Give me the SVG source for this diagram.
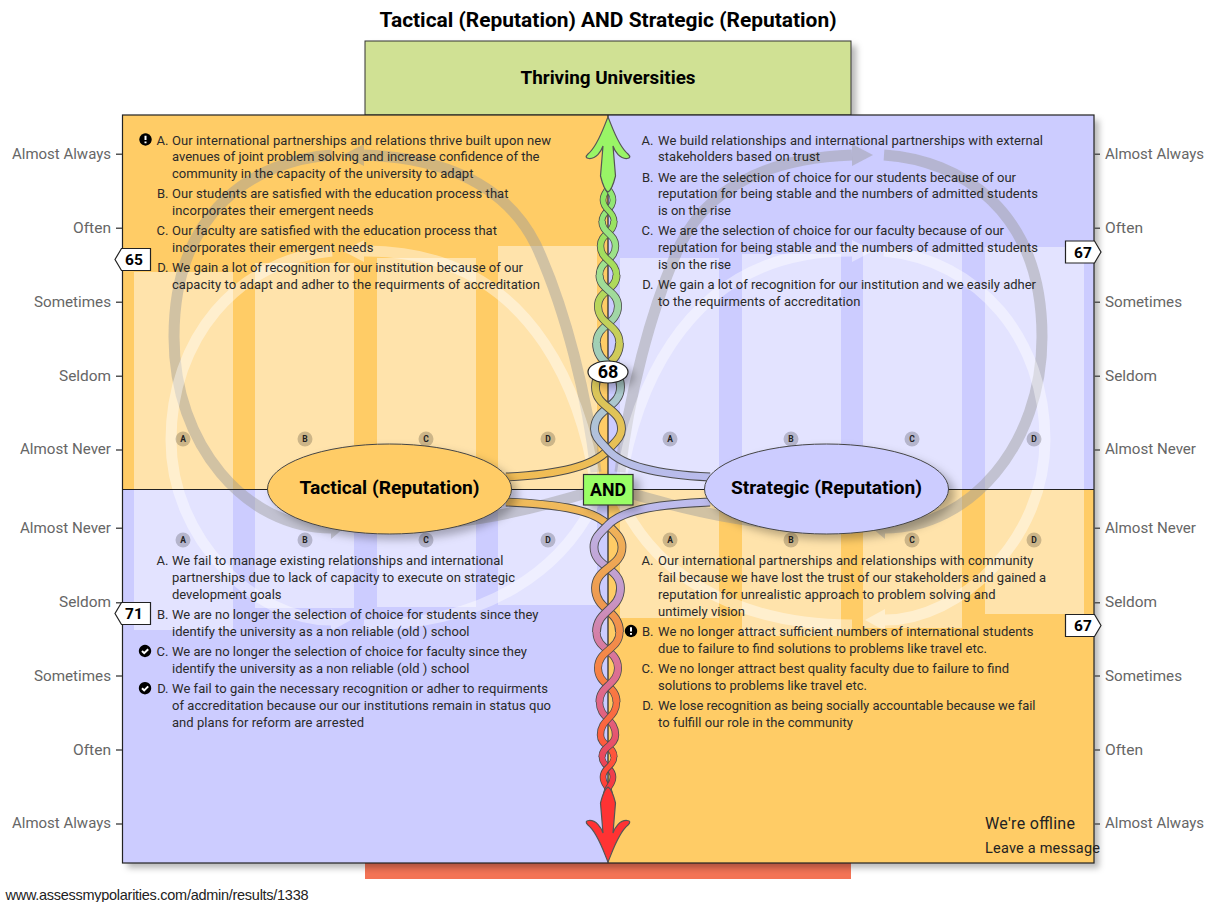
<svg xmlns="http://www.w3.org/2000/svg" width="1207" height="902" viewBox="0 0 1207 902">
<style>
text{font-family:Roboto,"Liberation Sans",sans-serif}
.b{font-size:13px;fill:#2a2a2a}
.l{font-size:13px;fill:#2a2a2a;text-anchor:end}
.ax{font-size:15px;fill:#666;text-anchor:end}
.ar{font-size:15px;fill:#666}
.tk{stroke:#555;stroke-width:1.5}
.bar{fill:#fff;opacity:.45}
.gy{fill:none;stroke:#999;stroke-width:11;opacity:.45}
.gh{fill:#999;opacity:.45}
.wh{fill:none;stroke:#fff;stroke-width:11;opacity:.42}
.wa{fill:#fff;opacity:.42}
.o7,.o6,.o5,.o4{fill:none;stroke:#4c4c4c}
.o7{stroke-width:8.8}.o6{stroke-width:8}.o5{stroke-width:7.4}.o4{stroke-width:6.6}
.c7,.c6,.c5,.c4{fill:none}
.c7{stroke-width:7}.c6{stroke-width:6.4}.c5{stroke-width:5.8}.c4{stroke-width:5}
.go{stroke:url(#go)}.gl{stroke:url(#gl)}.gy2{stroke:url(#gy2)}.gx{stroke:url(#gx)}
.dot{fill:#000;opacity:.2}
.dt{font-size:8.5px;font-weight:700;fill:#222;text-anchor:middle}
.el{stroke:#444;stroke-width:1}
.et{font-size:18px;font-weight:700;fill:#000;text-anchor:middle}
.sc{fill:#fff;stroke:#222;stroke-width:1.2}
.st{font-size:15.5px;font-weight:700;fill:#000;text-anchor:middle}
.ic{fill:#000}
.iw{fill:none;stroke:#fff;stroke-width:2}
</style>
<defs>
<filter id="sh" x="-10%" y="-10%" width="125%" height="125%"><feDropShadow dx="5" dy="5" stdDeviation="3" flood-color="#000" flood-opacity=".28"/></filter>
<filter id="sb" x="-30%" y="-30%" width="180%" height="180%"><feDropShadow dx="6" dy="5" stdDeviation="4" flood-color="#000" flood-opacity=".28"/></filter>
<linearGradient id="go" gradientUnits="userSpaceOnUse" x1="0" y1="480" x2="0" y2="120">
<stop offset="0" stop-color="#F2BC55"/><stop offset=".36" stop-color="#CFCB5A"/><stop offset=".58" stop-color="#A8DC5C"/><stop offset=".8" stop-color="#8FE765"/><stop offset="1" stop-color="#99F566"/></linearGradient>
<linearGradient id="gl" gradientUnits="userSpaceOnUse" x1="0" y1="480" x2="0" y2="120">
<stop offset="0" stop-color="#BABBEE"/><stop offset=".36" stop-color="#A2CEB8"/><stop offset=".58" stop-color="#A0E090"/><stop offset=".8" stop-color="#90E870"/><stop offset="1" stop-color="#99F566"/></linearGradient>
<linearGradient id="gy2" gradientUnits="userSpaceOnUse" x1="0" y1="500" x2="0" y2="800">
<stop offset="0" stop-color="#F0BC5C"/><stop offset=".33" stop-color="#EE9A50"/><stop offset=".6" stop-color="#F77F45"/><stop offset=".9" stop-color="#FF4C3A"/><stop offset="1" stop-color="#FF3333"/></linearGradient>
<linearGradient id="gx" gradientUnits="userSpaceOnUse" x1="0" y1="500" x2="0" y2="800">
<stop offset="0" stop-color="#BDBDEE"/><stop offset=".3" stop-color="#C49ACB"/><stop offset=".5" stop-color="#D9789D"/><stop offset=".73" stop-color="#E2607E"/><stop offset=".9" stop-color="#EE4050"/><stop offset="1" stop-color="#FF3333"/></linearGradient>
<g id="loop">
<path class="gy" d="M620 472C628 400 650 310 680 245C710 185 770 158 852 155"/>
<path class="gh" d="M852 144L873 155L852 166Z"/>
<path class="gy" d="M884 155C960 160 1042 210 1042 337C1042 445 970 528 885 528"/>
<path class="gh" d="M885 517L872 528L885 539Z"/>
<path class="gy" d="M852 528C770 528 700 515 620 490"/>
<path class="wh" d="M620 487C630 420 670 250 852 251"/>
<path class="wa" d="M852 240L873 251L852 262Z"/>
<path class="wh" d="M884 251C980 260 1045 340 1045 440C1045 540 960 620 885 620"/>
<path class="wa" d="M885 609L865 620L885 631Z"/>
<path class="wh" d="M852 625C730 625 650 570 617 492"/>
</g>
</defs>
<text x="608" y="26.5" style="font-size:19.5px;font-weight:700;text-anchor:middle;fill:#000" textLength="457" lengthAdjust="spacingAndGlyphs">Tactical (Reputation) AND Strategic (Reputation)</text>
<g id="pole-top"><rect x="365" y="41" width="486" height="74" fill="#D0E194" stroke="#333" stroke-width="1" filter="url(#sh)"/>
<text x="608" y="83.5" style="font-size:18px;font-weight:700;text-anchor:middle;fill:#000" textLength="175" lengthAdjust="spacingAndGlyphs">Thriving Universities</text></g>
<g id="pole-bottom"><rect x="365" y="850" width="486" height="29" fill="#F37355" stroke="none"/></g>
<g id="quadrants">
<rect x="122.5" y="115" width="971.500" height="748" fill="#fff" filter="url(#sh)"/>
<rect x="122.5" y="115" width="485.500" height="374.500" fill="#FFCC66"/>
<rect x="608" y="115" width="486" height="374.500" fill="#CCCCFF"/>
<rect x="122.5" y="489.500" width="485.500" height="373.500" fill="#CCCCFF"/>
<rect x="608" y="489.500" width="486" height="373.500" fill="#FFCC66"/>
<rect class="bar" x="134" y="272" width="99" height="217.500"/><rect class="bar" x="255" y="263" width="99" height="226.500"/><rect class="bar" x="377" y="258" width="99" height="231.500"/><rect class="bar" x="498" y="246" width="99" height="243.500"/>
<rect class="bar" x="620" y="258" width="99" height="231.500"/><rect class="bar" x="742" y="254" width="99" height="235.500"/><rect class="bar" x="863" y="251" width="99" height="238.500"/><rect class="bar" x="985" y="247" width="99" height="242.500"/>
<rect class="bar" x="134" y="489.500" width="99" height="140.500"/><rect class="bar" x="255" y="489.500" width="99" height="118.500"/><rect class="bar" x="377" y="489.500" width="99" height="117.500"/><rect class="bar" x="498" y="489.500" width="99" height="115.500"/>
<rect class="bar" x="620" y="489.500" width="99" height="128.500"/><rect class="bar" x="742" y="489.500" width="99" height="146.500"/><rect class="bar" x="863" y="489.500" width="99" height="138.500"/><rect class="bar" x="985" y="489.500" width="99" height="124.500"/>
</g>
<g id="connectors">
<use href="#loop"/>
<use href="#loop" transform="matrix(-1 0 0 1 1216 0)"/>
</g>
<g id="frame" fill="none" stroke="#222">
<rect x="122.5" y="115" width="971.500" height="748" stroke-width="1.2"/>
<path d="M122.500 489.500H1094" stroke-width="1"/>
<path d="M608 115V863" stroke-width="1.2"/>
</g>
<g id="axis-left">
<path class="tk" d="M116 154.300H122M116 228.300H122M116 302.300H122M116 376.300H122M116 450H122M116 528.300H122M116 602.700H122M116 676H122M116 750H122M116 824H122"/>
<text class="ax" x="111" y="159" textLength="99" lengthAdjust="spacingAndGlyphs">Almost Always</text><text class="ax" x="111" y="233" textLength="38" lengthAdjust="spacingAndGlyphs">Often</text><text class="ax" x="111" y="307" textLength="77" lengthAdjust="spacingAndGlyphs">Sometimes</text><text class="ax" x="111" y="381" textLength="52" lengthAdjust="spacingAndGlyphs">Seldom</text><text class="ax" x="111" y="454" textLength="91" lengthAdjust="spacingAndGlyphs">Almost Never</text>
<text class="ax" x="111" y="533" textLength="91" lengthAdjust="spacingAndGlyphs">Almost Never</text><text class="ax" x="111" y="607" textLength="52" lengthAdjust="spacingAndGlyphs">Seldom</text><text class="ax" x="111" y="681" textLength="77" lengthAdjust="spacingAndGlyphs">Sometimes</text><text class="ax" x="111" y="755" textLength="38" lengthAdjust="spacingAndGlyphs">Often</text><text class="ax" x="111" y="828" textLength="99" lengthAdjust="spacingAndGlyphs">Almost Always</text>
</g>
<g id="axis-right">
<path class="tk" d="M1094 154.300H1100M1094 228.300H1100M1094 302.300H1100M1094 376.300H1100M1094 450H1100M1094 528.300H1100M1094 602.700H1100M1094 676H1100M1094 750H1100M1094 824H1100"/>
<text class="ar" x="1105" y="159" textLength="99" lengthAdjust="spacingAndGlyphs">Almost Always</text><text class="ar" x="1105" y="233" textLength="38" lengthAdjust="spacingAndGlyphs">Often</text><text class="ar" x="1105" y="307" textLength="77" lengthAdjust="spacingAndGlyphs">Sometimes</text><text class="ar" x="1105" y="381" textLength="52" lengthAdjust="spacingAndGlyphs">Seldom</text><text class="ar" x="1105" y="454" textLength="91" lengthAdjust="spacingAndGlyphs">Almost Never</text>
<text class="ar" x="1105" y="533" textLength="91" lengthAdjust="spacingAndGlyphs">Almost Never</text><text class="ar" x="1105" y="607" textLength="52" lengthAdjust="spacingAndGlyphs">Seldom</text><text class="ar" x="1105" y="681" textLength="77" lengthAdjust="spacingAndGlyphs">Sometimes</text><text class="ar" x="1105" y="755" textLength="38" lengthAdjust="spacingAndGlyphs">Often</text><text class="ar" x="1105" y="828" textLength="99" lengthAdjust="spacingAndGlyphs">Almost Always</text>
</g>
<g id="text-tl">
<path class="ic" d="M145.500 133.300a6.200 6.200 0 1 0 .01 0Z"/><path class="iw" d="M145.500 135.700v4.300M145.500 141.500v1.800"/>
<text class="l" x="168.500" y="144.700">A.</text>
<text class="b" x="172" y="144.700" textLength="379">Our international partnerships and relations thrive built upon new</text>
<text class="b" x="172" y="161.300" textLength="367.500">avenues of joint problem solving and increase confidence of the</text>
<text class="b" x="172" y="178.300" textLength="301.500">community in the capacity of the university to adapt</text>
<text class="l" x="168.500" y="198.300">B.</text>
<text class="b" x="172" y="198.300" textLength="336.500">Our students are satisfied with the education process that</text>
<text class="b" x="172" y="215.300" textLength="201.500">incorporates their emergent needs</text>
<text class="l" x="168.500" y="235.300">C.</text>
<text class="b" x="172" y="235.300" textLength="325">Our faculty are satisfied with the education process that</text>
<text class="b" x="172" y="252.300" textLength="201.500">incorporates their emergent needs</text>
<text class="l" x="168.500" y="272.300">D.</text>
<text class="b" x="172" y="272.300" textLength="351">We gain a lot of recognition for our institution because of our</text>
<text class="b" x="172" y="289.300" textLength="368">capacity to adapt and adher to the requirments of accreditation</text>
</g>
<g id="text-tr">
<text class="l" x="653.500" y="144.700">A.</text>
<text class="b" x="658" y="144.700" textLength="385">We build relationships and international partnerships with external</text>
<text class="b" x="658" y="161.300" textLength="162">stakeholders based on trust</text>
<text class="l" x="653.500" y="181.700">B.</text>
<text class="b" x="658" y="181.700" textLength="358">We are the selection of choice for our students because of our</text>
<text class="b" x="658" y="198.300" textLength="380">reputation for being stable and the numbers of admitted students</text>
<text class="b" x="658" y="215.300" textLength="73">is on the rise</text>
<text class="l" x="653.500" y="235.300">C.</text>
<text class="b" x="658" y="235.300" textLength="346">We are the selection of choice for our faculty because of our</text>
<text class="b" x="658" y="252.300" textLength="380">reputation for being stable and the numbers of admitted students</text>
<text class="b" x="658" y="269" textLength="73">is on the rise</text>
<text class="l" x="653.500" y="289.300">D.</text>
<text class="b" x="658" y="289.300" textLength="378">We gain a lot of recognition for our institution and we easily adher</text>
<text class="b" x="658" y="306" textLength="202.500">to the requirments of accreditation</text>
</g>
<g id="text-bl">
<text class="l" x="168.500" y="565.300">A.</text>
<text class="b" x="172" y="565.300" textLength="331.500">We fail to manage existing relationships and international</text>
<text class="b" x="172" y="582" textLength="343">partnerships due to lack of capacity to execute on strategic</text>
<text class="b" x="172" y="599" textLength="109.500">development goals</text>
<text class="l" x="168.500" y="619">B.</text>
<text class="b" x="172" y="619" textLength="366.500">We are no longer the selection of choice for students since they</text>
<text class="b" x="172" y="636" textLength="297.500">identify the university as a non reliable (old ) school</text>
<path class="ic" d="M145 644.800a6.200 6.200 0 1 0 .01 0Z"/><path class="iw" d="M142 651l2.200 2.200 4-4"/>
<text class="l" x="168.500" y="656">C.</text>
<text class="b" x="172" y="656" textLength="355">We are no longer the selection of choice for faculty since they</text>
<text class="b" x="172" y="673" textLength="297.500">identify the university as a non reliable (old ) school</text>
<path class="ic" d="M145 682a6.200 6.200 0 1 0 .01 0Z"/><path class="iw" d="M142 688.200l2.200 2.200 4-4"/>
<text class="l" x="168.500" y="693.300">D.</text>
<text class="b" x="172" y="693.300" textLength="376">We fail to gain the necessary recognition or adher to requirments</text>
<text class="b" x="172" y="710" textLength="379">of accreditation because our our institutions remain in status quo</text>
<text class="b" x="172" y="726.700" textLength="192">and plans for reform are arrested</text>
</g>
<g id="text-br">
<text class="l" x="653.500" y="565.300">A.</text>
<text class="b" x="658" y="565.300" textLength="375.500">Our international partnerships and relationships with community</text>
<text class="b" x="658" y="582" textLength="388">fail because we have lost the trust of our stakeholders and gained a</text>
<text class="b" x="658" y="599" textLength="337.500">reputation for unrealistic approach to problem solving and</text>
<text class="b" x="658" y="615.700" textLength="87">untimely vision</text>
<path class="ic" d="M631 624.800a6.200 6.200 0 1 0 .01 0Z"/><path class="iw" d="M631 627.200v4.300M631 633v1.800"/>
<text class="l" x="653.500" y="636">B.</text>
<text class="b" x="658" y="636" textLength="375.500">We no longer attract sufficient numbers of international students</text>
<text class="b" x="658" y="652.700" textLength="329">due to failure to find solutions to problems like travel etc.</text>
<text class="l" x="653.500" y="673">C.</text>
<text class="b" x="658" y="673" textLength="351">We no longer attract best quality faculty due to failure to find</text>
<text class="b" x="658" y="689.700" textLength="209">solutions to problems like travel etc.</text>
<text class="l" x="653.500" y="710">D.</text>
<text class="b" x="658" y="710" textLength="377.500">We lose recognition as being socially accountable because we fail</text>
<text class="b" x="658" y="726.700" textLength="195">to fulfill our role in the community</text>
</g>
<g id="markers">
<circle class="dot" cx="183" cy="439" r="7.500"/><circle class="dot" cx="305" cy="439" r="7.500"/><circle class="dot" cx="426" cy="439" r="7.500"/><circle class="dot" cx="548" cy="439" r="7.500"/>
<circle class="dot" cx="670" cy="439" r="7.500"/><circle class="dot" cx="791" cy="439" r="7.500"/><circle class="dot" cx="912" cy="439" r="7.500"/><circle class="dot" cx="1034" cy="439" r="7.500"/>
<circle class="dot" cx="183" cy="540" r="7.500"/><circle class="dot" cx="305" cy="540" r="7.500"/><circle class="dot" cx="426" cy="540" r="7.500"/><circle class="dot" cx="548" cy="540" r="7.500"/>
<circle class="dot" cx="670" cy="540" r="7.500"/><circle class="dot" cx="791" cy="540" r="7.500"/><circle class="dot" cx="912" cy="540" r="7.500"/><circle class="dot" cx="1034" cy="540" r="7.500"/>
<text class="dt" x="183" y="442">A</text><text class="dt" x="305" y="442">B</text><text class="dt" x="426" y="442">C</text><text class="dt" x="548" y="442">D</text>
<text class="dt" x="670" y="442">A</text><text class="dt" x="791" y="442">B</text><text class="dt" x="912" y="442">C</text><text class="dt" x="1034" y="442">D</text>
<text class="dt" x="183" y="543">A</text><text class="dt" x="305" y="543">B</text><text class="dt" x="426" y="543">C</text><text class="dt" x="548" y="543">D</text>
<text class="dt" x="670" y="543">A</text><text class="dt" x="791" y="543">B</text><text class="dt" x="912" y="543">C</text><text class="dt" x="1034" y="543">D</text>
</g>
<g id="helix-top">
<path class="o7" d="M506 477C550 475 592 468 608 450C616 441 621.500 437 621.500 429"/><path class="c7 go" d="M506 477C550 475 592 468 608 450C616 441 621.500 437 621.500 429"/>
<path class="o7" d="M710 477C666 475 624 468 608 450C600 441 594.500 437 594.500 429"/><path class="c7 gl" d="M710 477C666 475 624 468 608 450C600 441 594.500 437 594.500 429"/>
<path class="o7" d="M594.500 429C594.500 408 620.500 408 620.500 387"/><path class="c7 gl" d="M594.500 429C594.500 408 620.500 408 620.500 387"/>
<path class="o7" d="M621.500 429C621.500 408 595.500 408 595.500 387"/><path class="c7 go" d="M621.500 429C621.500 408 595.500 408 595.500 387"/>
<path class="o7" d="M595.500 387C595.500 365 619.500 365 619.500 343"/><path class="c7 go" d="M595.500 387C595.500 365 619.500 365 619.500 343"/>
<path class="o7" d="M620.500 387C620.500 365 596.500 365 596.500 343"/><path class="c7 gl" d="M620.500 387C620.500 365 596.500 365 596.500 343"/>
<path class="o6" d="M596.500 343C596.500 324.500 618 324.500 618 306"/><path class="c6 gl" d="M596.500 343C596.500 324.500 618 324.500 618 306"/>
<path class="o6" d="M619.500 343C619.500 324.500 598 324.500 598 306"/><path class="c6 go" d="M619.500 343C619.500 324.500 598 324.500 598 306"/>
<path class="o6" d="M598 306C598 290.500 616.500 290.500 616.500 275"/><path class="c6 go" d="M598 306C598 290.500 616.500 290.500 616.500 275"/>
<path class="o6" d="M618 306C618 290.500 599.500 290.500 599.500 275"/><path class="c6 gl" d="M618 306C618 290.500 599.500 290.500 599.500 275"/>
<path class="o5" d="M599.500 275C599.500 260.500 615.500 260.500 615.500 246"/><path class="c5 gl" d="M599.500 275C599.500 260.500 615.500 260.500 615.500 246"/>
<path class="o5" d="M616.500 275C616.500 260.500 600.500 260.500 600.500 246"/><path class="c5 go" d="M616.500 275C616.500 260.500 600.500 260.500 600.500 246"/>
<path class="o5" d="M600.500 246C600.500 233.500 614 233.500 614 221"/><path class="c5 go" d="M600.500 246C600.500 233.500 614 233.500 614 221"/>
<path class="o5" d="M615.500 246C615.500 233.500 602 233.500 602 221"/><path class="c5 gl" d="M615.500 246C615.500 233.500 602 233.500 602 221"/>
<path class="o4" d="M602 221C602 210.500 613 210.500 613 200"/><path class="c4 gl" d="M602 221C602 210.500 613 210.500 613 200"/>
<path class="o4" d="M614 221C614 210.500 603 210.500 603 200"/><path class="c4 go" d="M614 221C614 210.500 603 210.500 603 200"/>
<path class="o4" d="M603 200C603 191 610 191 610 180"/><path class="c4 go" d="M603 200C603 191 610 191 610 180"/>
<path class="o4" d="M613 200C613 191 606 191 606 180"/><path class="c4 gl" d="M613 200C613 191 606 191 606 180"/>
<path id="arrow-up" d="M608 117C612 126 618 146 628 154Q632 158 627 158.500C620 159 615 152 613 146L615.500 176Q612 190 608 192Q604 190 600.500 176L603 146C601 152 596 159 589 158.500Q584 158 588 154C598 146 604 126 608 117Z" fill="#99F566" stroke="#555" stroke-width="1.200"/>
</g>
<g id="helix-bottom">
<path class="o7" d="M506 502C550 504 592 508 608 525C616 533 622 538 622 547"/><path class="c7 gy2" d="M506 502C550 504 592 508 608 525C616 533 622 538 622 547"/>
<path class="o7" d="M710 502C666 504 624 508 608 525C600 533 594 538 594 547"/><path class="c7 gx" d="M710 502C666 504 624 508 608 525C600 533 594 538 594 547"/>
<path class="o7" d="M594 547C594 567.500 620.500 567.500 620.500 588"/><path class="c7 gx" d="M594 547C594 567.500 620.500 567.500 620.500 588"/>
<path class="o7" d="M622 547C622 567.500 595.500 567.500 595.500 588"/><path class="c7 gy2" d="M622 547C622 567.500 595.500 567.500 595.500 588"/>
<path class="o7" d="M595.500 588C595.500 610 619.500 610 619.500 632"/><path class="c7 gy2" d="M595.500 588C595.500 610 619.500 610 619.500 632"/>
<path class="o7" d="M620.500 588C620.500 610 596.500 610 596.500 632"/><path class="c7 gx" d="M620.500 588C620.500 610 596.500 610 596.500 632"/>
<path class="o6" d="M596.500 632C596.500 650 618 650 618 668"/><path class="c6 gx" d="M596.500 632C596.500 650 618 650 618 668"/>
<path class="o6" d="M619.500 632C619.500 650 598 650 598 668"/><path class="c6 gy2" d="M619.500 632C619.500 650 598 650 598 668"/>
<path class="o6" d="M598 668C598 685 616.500 685 616.500 702"/><path class="c6 gy2" d="M598 668C598 685 616.500 685 616.500 702"/>
<path class="o6" d="M618 668C618 685 599.500 685 599.500 702"/><path class="c6 gx" d="M618 668C618 685 599.500 685 599.500 702"/>
<path class="o5" d="M599.500 702C599.500 718.500 615.500 718.500 615.500 735"/><path class="c5 gx" d="M599.500 702C599.500 718.500 615.500 718.500 615.500 735"/>
<path class="o5" d="M616.500 702C616.500 718.500 600.500 718.500 600.500 735"/><path class="c5 gy2" d="M616.500 702C616.500 718.500 600.500 718.500 600.500 735"/>
<path class="o5" d="M600.500 735C600.500 746 614 746 614 757"/><path class="c5 gy2" d="M600.500 735C600.500 746 614 746 614 757"/>
<path class="o5" d="M615.500 735C615.500 746 602 746 602 757"/><path class="c5 gx" d="M615.500 735C615.500 746 602 746 602 757"/>
<path class="o4" d="M602 757C602 767 613 767 613 777"/><path class="c4 gx" d="M602 757C602 767 613 767 613 777"/>
<path class="o4" d="M614 757C614 767 603 767 603 777"/><path class="c4 gy2" d="M614 757C614 767 603 767 603 777"/>
<path class="o4" d="M603 777C603 786 610 786 610 797"/><path class="c4 gy2" d="M603 777C603 786 610 786 610 797"/>
<path class="o4" d="M613 777C613 786 606 786 606 797"/><path class="c4 gx" d="M613 777C613 786 606 786 606 797"/>
<path id="arrow-down" d="M608 117C612 126 618 146 628 154Q632 158 627 158.500C620 159 615 152 613 146L615.500 176Q612 190 608 192Q604 190 600.500 176L603 146C601 152 596 159 589 158.500Q584 158 588 154C598 146 604 126 608 117Z" transform="matrix(1 0 0 -1 0 979)" fill="#FF3333" stroke="#555" stroke-width="1.200"/>
</g>
<g id="node-tactical"><ellipse class="el" cx="389.500" cy="489" rx="122" ry="45" fill="#FFCC66" filter="url(#sb)"/><text class="et" x="389.500" y="494" textLength="180" lengthAdjust="spacingAndGlyphs">Tactical (Reputation)</text></g>
<g id="node-strategic"><ellipse class="el" cx="826.500" cy="489" rx="122" ry="45" fill="#CCCCFF" filter="url(#sb)"/><text class="et" x="826.500" y="494" textLength="191" lengthAdjust="spacingAndGlyphs">Strategic (Reputation)</text></g>
<g id="node-and"><rect x="583.500" y="474.500" width="49.500" height="30.500" fill="#99FF66" stroke="#333" stroke-width="1.200" filter="url(#sb)"/><text x="608" y="495.500" style="font-size:17.500px;font-weight:700;fill:#000;text-anchor:middle" textLength="36" lengthAdjust="spacingAndGlyphs">AND</text></g>
<g id="node-score-68"><ellipse class="sc" cx="608" cy="372" rx="20" ry="11" filter="url(#sb)"/><text x="608" y="378" style="font-size:18px;font-weight:700;fill:#000;text-anchor:middle">68</text></g>
<g id="score-65"><path class="sc" d="M150.500 248.500H121.500L115 259.500L121.500 270.500H150.500Z"/><text class="st" x="134" y="265">65</text></g>
<g id="score-71"><path class="sc" d="M150.500 602.500H121.500L115 613.500L121.500 624.500H150.500Z"/><text class="st" x="134" y="619">71</text></g>
<g id="score-67-top"><path class="sc" d="M1065.500 241H1094.500L1101 252L1094.500 263H1065.500Z"/><text class="st" x="1083" y="257.500">67</text></g>
<g id="score-67-bottom"><path class="sc" d="M1065.500 614.500H1094.500L1101 625.500L1094.500 636.500H1065.500Z"/><text class="st" x="1083" y="631">67</text></g>
<text x="985" y="829" style="font-size:16px;fill:#222" textLength="90">We're offline</text>
<text x="985" y="853" style="font-size:14.500px;fill:#222" textLength="115">Leave a message</text>
<text x="5.500" y="900" style="font-family:'Liberation Sans',Arial,sans-serif;font-size:14.500px;fill:#222" textLength="303">www.assessmypolarities.com/admin/results/1338</text>
</svg>
